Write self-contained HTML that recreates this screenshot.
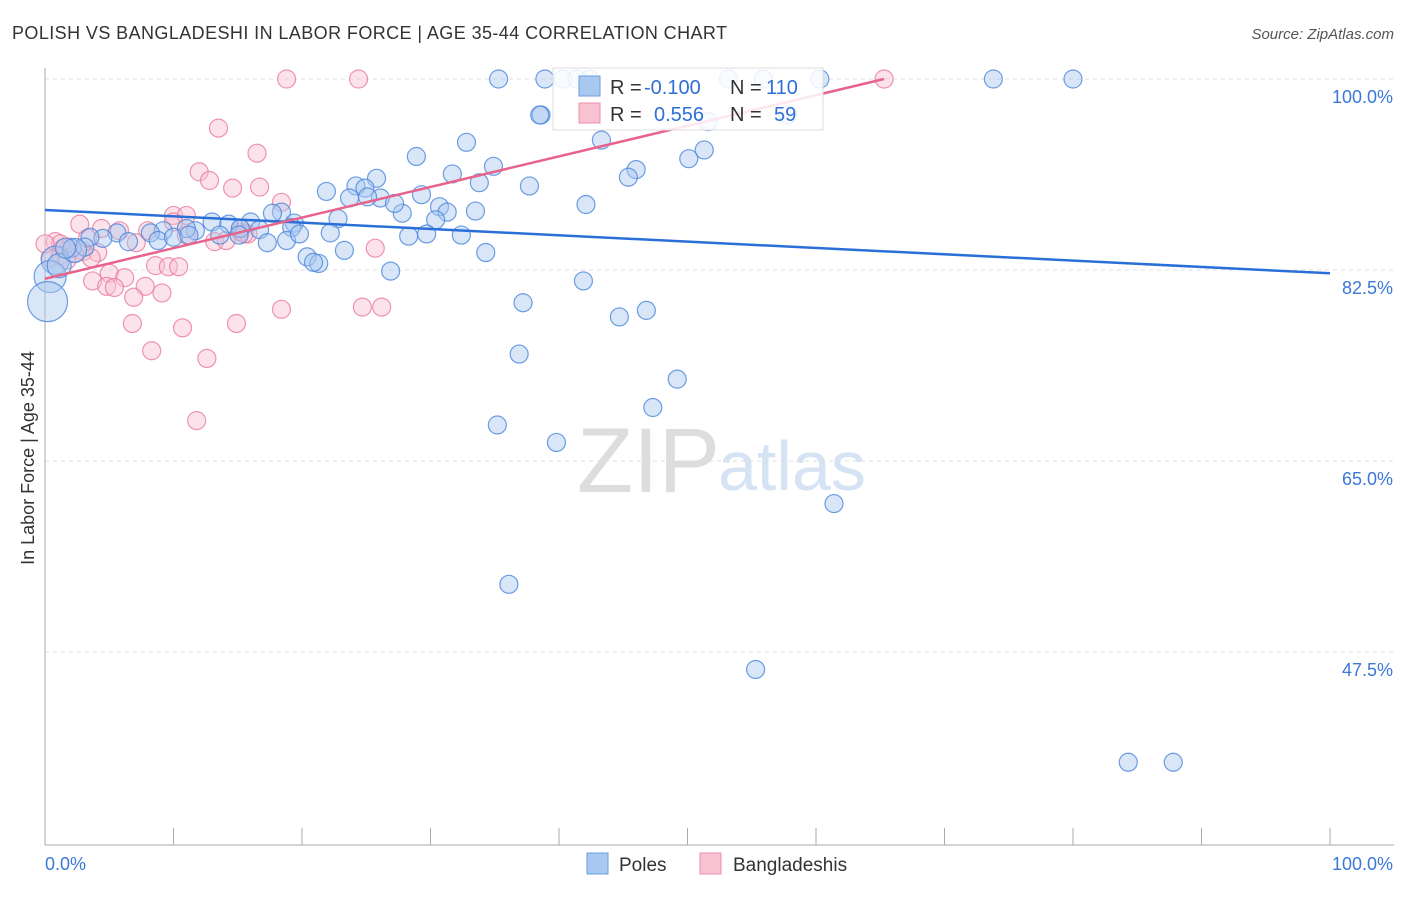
<!DOCTYPE html>
<html><head><meta charset="utf-8"><style>
body{margin:0;background:#fff;font-family:"Liberation Sans",sans-serif;}
svg text{font-family:"Liberation Sans",sans-serif;}
</style></head><body>
<svg id="chart" width="1406" height="892">
<text x="12" y="39" font-size="18" fill="#333" textLength="715">POLISH VS BANGLADESHI IN LABOR FORCE | AGE 35-44 CORRELATION CHART</text>
<text x="1394" y="39" font-size="15" fill="#555" text-anchor="end" font-style="italic">Source: ZipAtlas.com</text>
<text x="0" y="0" transform="translate(34,458) rotate(-90)" font-size="18" fill="#333" text-anchor="middle">In Labor Force | Age 35-44</text>
<text x="720" y="492" font-size="92" fill="#ddd" text-anchor="end" font-family="Liberation Serif">ZIP</text>
<text x="718" y="490" font-size="70" fill="#d5e3f4">atlas</text>
<g id="grid"></g><g id="axes"></g><g id="pts"></g><g id="lines"></g>
<g>
<rect x="553" y="68" width="270" height="62" fill="#fff" fill-opacity="0.85" stroke="#ddd"/>
<rect x="579" y="76" width="21" height="20" fill="#a9c8f0" stroke="#6a9ee0"/>
<rect x="579" y="103" width="21" height="20" fill="#f9c2d2" stroke="#ec90ad"/>
<text x="610" y="94" font-size="20" fill="#333">R =</text><text x="644" y="94" font-size="20" fill="#2f6fd6">-0.100</text>
<text x="730" y="94" font-size="20" fill="#333">N =</text><text x="766" y="94" font-size="20" fill="#2f6fd6">110</text>
<text x="610" y="121" font-size="20" fill="#333">R =</text><text x="654" y="121" font-size="20" fill="#2f6fd6">0.556</text>
<text x="730" y="121" font-size="20" fill="#333">N =</text><text x="774" y="121" font-size="20" fill="#2f6fd6">59</text>
</g>
<g>
<rect x="587" y="853" width="21" height="21" fill="#a9c8f0" stroke="#6a9ee0"/>
<text x="619" y="871" font-size="19" fill="#333">Poles</text>
<rect x="700" y="853" width="21" height="21" fill="#f9c2d2" stroke="#ec90ad"/>
<text x="733" y="871" font-size="19" fill="#333">Bangladeshis</text>
</g>
</svg>
<script>
const yTicks=[100,82.5,65,47.5];
const yTickLabels=["100.0%","82.5%","65.0%","47.5%"];
const xTickLabels=["0.0%","100.0%"];
const polesX=[35.3,38.9,40.3,41.4,42.4,53.2,55.9,60.3,73.8,80,38.6,38.5,57.8,51.6,43.3,32.8,28.9,51.3,50.1,46,45.4,34.9,31.7,33.8,25.8,24.2,24.9,21.9,37.7,29.3,26.1,23.7,25.1,30.7,31.3,33.5,42.1,27.8,27.2,22.8,30.4,18.4,17.7,16,13,14.3,19.4,19.2,16.7,15.2,11.7,11,9.2,8.2,5.6,4.5,3.5,2.1,3.1,6.5,8.8,10,11.2,13.6,15.1,17.3,18.8,22.2,19.8,23.3,28.3,29.7,32.4,34.3,20.4,21.3,20.9,26.9,41.9,37.2,44.7,46.8,36.9,49.2,47.3,35.2,39.8,61.4,36.1,55.3,84.3,87.8,0.8,0.4,0.2,1.1,2.3,1.6];
const polesY=[100,100,100,100,100,100,100,100,100,100,96.7,96.7,96.7,96.1,94.4,94.2,92.9,93.5,92.7,91.7,91,92,91.3,90.5,90.9,90.2,90,89.7,90.2,89.4,89.1,89.1,89.2,88.3,87.8,87.9,88.5,87.7,88.6,87.2,87.1,87.8,87.7,86.9,86.9,86.7,86.8,86.4,86.2,86.3,86.1,86.3,86.1,85.9,85.9,85.4,85.5,84.5,84.6,85.1,85.2,85.5,85.7,85.7,85.7,85,85.2,85.9,85.8,84.3,85.6,85.8,85.7,84.1,83.7,83.1,83.2,82.4,81.5,79.5,78.2,78.8,74.8,72.5,69.9,68.3,66.7,61.1,53.7,45.9,37.4,37.4,83.4,81.9,79.6,82.9,84.3,84.5];
const polesR=[9,9,9,9,9,9,9,9,9,9,9,9,9,9,9,9,9,9,9,9,9,9,9,9,9,9,9,9,9,9,9,9,9,9,9,9,9,9,9,9,9,9,9,9,9,9,9,9,9,9,9,9,9,9,9,9,9,9,9,9,9,9,9,9,9,9,9,9,9,9,9,9,9,9,9,9,9,9,9,9,9,9,9,9,9,9,9,9,9,9,9,9,14,16,20,12,12,10];
const bangX=[18.8,24.4,65.3,13.5,16.5,12,12.8,14.6,16.7,18.4,10,11,10,2.7,4.4,5.8,8,11,15.2,15.8,13.2,14.1,7.1,25.7,0.8,1.4,1.9,0.4,1.2,3,4.1,3.6,5,6.2,8.6,9.6,10.4,3.7,4.8,5.4,7.8,9.1,6.9,18.4,24.7,26.2,6.8,10.7,14.9,8.3,12.6,11.8,1.2,2.3,0,3.3,1.7,15.2,15.5];
const bangY=[100,100,100,95.5,93.2,91.5,90.7,90,90.1,88.7,87.5,87.5,86.9,86.7,86.3,86.1,86.1,85.7,86,85.8,85.1,85.2,85,84.5,85.1,84.5,84.6,83.6,83.8,84.2,84.1,83.6,82.2,81.8,82.9,82.8,82.8,81.5,81,80.9,81,80.4,80,78.9,79.1,79.1,77.6,77.2,77.6,75.1,74.4,68.7,84.9,84,84.9,85.4,83.4,86.3,85.8];
const bangR=bangX.map(()=>9);
const blueLine=[[0,88.0],[100,82.2]];
const pinkLine=[[0,81.7],[65.3,100]];

const NS="http://www.w3.org/2000/svg";
const X0=45,X1=1330,Y100=79,PX_PER=191/17.5;
const sx=v=>X0+(X1-X0)*v/100;
const sy=v=>Y100+(100-v)*PX_PER;
function mk(t,a){const e=document.createElementNS(NS,t);for(const k in a)e.setAttribute(k,a[k]);return e;}
const grid=document.getElementById('grid'),axes=document.getElementById('axes');
yTicks.forEach((t,i)=>{
 const l=mk('line',{x1:X0,x2:1394,y1:sy(t),y2:sy(t),stroke:'#ddd','stroke-dasharray':'4,4'});
 
 
 grid.appendChild(l);
 const tx=mk('text',{x:1393,y:sy(t)+24,'font-size':18,fill:'#3b78d8','text-anchor':'end'});
 tx.textContent=yTickLabels[i];
 
 
 axes.appendChild(tx);
});
const ya=mk('line',{x1:X0,x2:X0,y1:68,y2:845,stroke:'#aaa'});


axes.appendChild(ya);
const xa=mk('line',{x1:X0,x2:1394,y1:845,y2:845,stroke:'#aaa'});


axes.appendChild(xa);
for(let i=1;i<=10;i++){
 const tk=mk('line',{x1:sx(i*10),x2:sx(i*10),y1:828,y2:845,stroke:'#aaa'});
 
 
 axes.appendChild(tk);
}
[[0,'start',45],[100,'end',1393]].forEach((d,i)=>{
 const tx=mk('text',{x:d[2],y:870,'font-size':18,fill:'#3b78d8','text-anchor':d[1]});
 tx.textContent=xTickLabels[i];
 
 
 axes.appendChild(tx);
});
const pts=document.getElementById('pts');
function series(xs,ys,rs,fill,stroke,name){
 xs.forEach((x,i)=>{
  const c=mk('circle',{cx:sx(x),cy:sy(ys[i]),r:rs[i],fill:fill,'fill-opacity':0.45,stroke:stroke,'stroke-opacity':0.8,'stroke-width':1.2});
  
  
  pts.appendChild(c);
 });
}
series(bangX,bangY,bangR,'#f9c2d2','#ea7a9c','point-bangladeshis');
series(polesX,polesY,polesR,'#a9c8f0','#4a86dc','point-poles');
const lines=document.getElementById('lines');
const bl=mk('line',{x1:sx(blueLine[0][0]),y1:sy(blueLine[0][1]),x2:sx(blueLine[1][0]),y2:sy(blueLine[1][1]),stroke:'#2a6fd8','stroke-width':2.5});


lines.appendChild(bl);
const pl=mk('line',{x1:sx(pinkLine[0][0]),y1:sy(pinkLine[0][1]),x2:sx(pinkLine[1][0]),y2:sy(pinkLine[1][1]),stroke:'#e8628b','stroke-width':2.5});


lines.appendChild(pl);
</script>
</body></html>
